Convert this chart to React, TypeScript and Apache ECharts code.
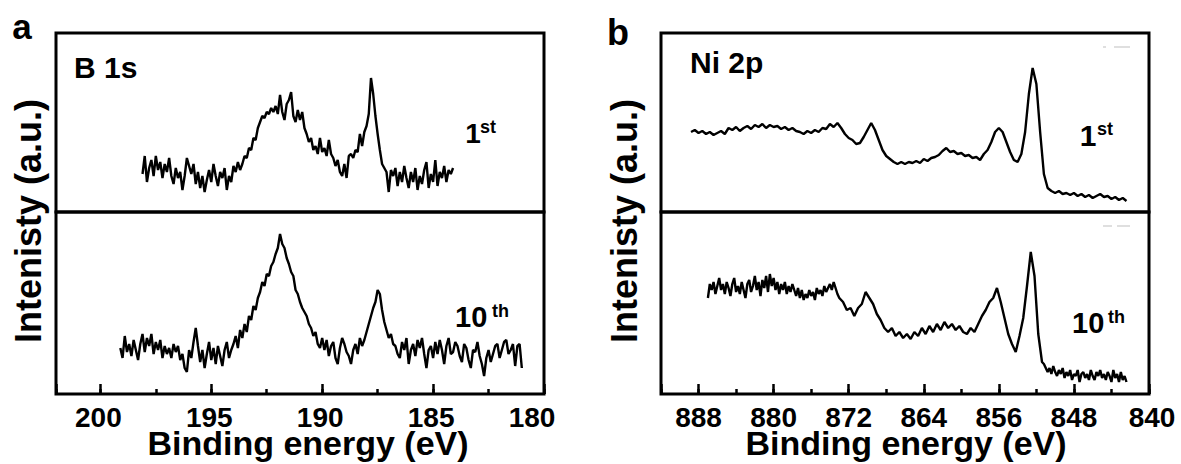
import React, { useEffect, useRef } from "react";
import * as echarts from "echarts";

// ---------- data ----------
// Panel a: B 1s  (binding energy eV, intensity a.u.)
const aRange = [180, 202];
const aMajorTicks = [200, 195, 190, 185, 180];
const aMinorTicks = [197.5, 192.5, 187.5, 182.5];

const aTop1st = [
  [198.1, 38], [198.0, 56], [197.9, 30], [197.8, 44], [197.7, 52], [197.6, 36], [197.5, 56], [197.4, 42], [197.3, 50], [197.2, 34],
  [197.1, 48], [197.0, 40], [196.9, 54], [196.8, 36], [196.7, 28], [196.6, 44], [196.5, 34], [196.4, 40], [196.3, 22], [196.2, 36],
  [196.1, 54], [196.0, 46], [195.9, 38], [195.8, 48], [195.7, 28], [195.6, 40], [195.5, 24], [195.4, 36], [195.3, 20], [195.2, 32],
  [195.1, 42], [195.0, 30], [194.9, 48], [194.8, 36], [194.7, 26], [194.6, 40], [194.5, 34], [194.4, 44], [194.3, 22], [194.2, 36],
  [194.1, 30], [194.0, 46], [193.9, 40], [193.8, 50], [193.7, 42], [193.6, 48], [193.5, 56], [193.4, 54], [193.3, 64], [193.2, 62],
  [193.1, 74], [193.0, 72], [192.9, 84], [192.8, 90], [192.7, 96], [192.6, 94], [192.5, 100], [192.4, 98], [192.3, 104], [192.2, 100],
  [192.1, 106], [192.0, 98], [191.9, 117], [191.8, 100], [191.7, 92], [191.6, 108], [191.5, 112], [191.4, 120], [191.3, 96], [191.2, 90],
  [191.1, 102], [191.0, 92], [190.9, 100], [190.8, 84], [190.7, 78], [190.6, 70], [190.5, 74], [190.4, 62], [190.3, 66], [190.2, 58],
  [190.1, 74], [190.0, 60], [189.9, 64], [189.8, 56], [189.7, 72], [189.6, 58], [189.5, 54], [189.4, 46], [189.3, 52], [189.2, 40],
  [189.1, 36], [189.0, 48], [188.9, 34], [188.8, 56], [188.7, 58], [188.6, 54], [188.5, 62], [188.4, 60], [188.3, 78], [188.2, 66],
  [188.1, 80], [188.0, 86], [187.9, 98], [187.8, 134], [187.7, 118], [187.6, 96], [187.5, 78], [187.4, 62], [187.3, 48], [187.2, 44],
  [187.1, 40], [187.0, 20], [186.9, 42], [186.8, 36], [186.7, 44], [186.6, 26], [186.5, 40], [186.4, 30], [186.3, 46], [186.2, 34],
  [186.1, 24], [186.0, 40], [185.9, 30], [185.8, 44], [185.7, 22], [185.6, 36], [185.5, 28], [185.4, 42], [185.3, 50], [185.2, 24],
  [185.1, 38], [185.0, 30], [184.9, 52], [184.8, 26], [184.7, 40], [184.6, 34], [184.5, 46], [184.4, 30], [184.3, 42], [184.2, 38],
  [184.1, 44],
];

const aBottom10th = [
  [199.1, 46], [199.0, 36], [198.9, 58], [198.8, 42], [198.7, 50], [198.6, 38], [198.5, 54], [198.4, 44], [198.3, 34], [198.2, 50],
  [198.1, 60], [198.0, 42], [197.9, 56], [197.8, 48], [197.7, 60], [197.6, 40], [197.5, 52], [197.4, 44], [197.3, 54], [197.2, 36],
  [197.1, 48], [197.0, 40], [196.9, 46], [196.8, 36], [196.7, 50], [196.6, 42], [196.5, 48], [196.4, 34], [196.3, 40], [196.2, 26],
  [196.1, 22], [196.0, 44], [195.9, 36], [195.8, 52], [195.7, 66], [195.6, 48], [195.5, 32], [195.4, 44], [195.3, 26], [195.2, 40],
  [195.1, 52], [195.0, 34], [194.9, 46], [194.8, 30], [194.7, 48], [194.6, 38], [194.5, 28], [194.4, 44], [194.3, 52], [194.2, 36],
  [194.1, 44], [194.0, 50], [193.9, 58], [193.8, 46], [193.7, 64], [193.6, 56], [193.5, 70], [193.4, 62], [193.3, 78], [193.2, 74],
  [193.1, 88], [193.0, 84], [192.9, 96], [192.8, 102], [192.7, 112], [192.6, 108], [192.5, 120], [192.4, 118], [192.3, 128], [192.2, 132],
  [192.1, 140], [192.0, 146], [191.9, 160], [191.8, 150], [191.7, 146], [191.6, 136], [191.5, 130], [191.4, 122], [191.3, 118], [191.2, 104],
  [191.1, 100], [191.0, 92], [190.9, 86], [190.8, 82], [190.7, 78], [190.6, 70], [190.5, 66], [190.4, 58], [190.3, 62], [190.2, 50],
  [190.1, 46], [190.0, 56], [189.9, 44], [189.8, 54], [189.7, 38], [189.6, 48], [189.5, 52], [189.4, 36], [189.3, 30], [189.2, 46],
  [189.1, 56], [189.0, 50], [188.9, 42], [188.8, 38], [188.7, 30], [188.6, 44], [188.5, 50], [188.4, 40], [188.3, 56], [188.2, 48],
  [188.1, 54], [188.0, 62], [187.9, 70], [187.8, 78], [187.7, 86], [187.6, 92], [187.5, 104], [187.4, 100], [187.3, 84], [187.2, 72],
  [187.1, 64], [187.0, 56], [186.9, 60], [186.8, 50], [186.7, 48], [186.6, 40], [186.5, 36], [186.4, 52], [186.3, 44], [186.2, 56],
  [186.1, 30], [186.0, 44], [185.9, 50], [185.8, 38], [185.7, 54], [185.6, 46], [185.5, 56], [185.4, 40], [185.3, 26], [185.2, 44],
  [185.1, 48], [185.0, 36], [184.9, 52], [184.8, 40], [184.7, 54], [184.6, 44], [184.5, 30], [184.4, 48], [184.3, 56], [184.2, 40],
  [184.1, 42], [184.0, 52], [183.9, 48], [183.8, 38], [183.7, 32], [183.6, 50], [183.5, 46], [183.4, 34], [183.3, 26], [183.2, 44],
  [183.1, 42], [183.0, 52], [182.9, 38], [182.8, 30], [182.7, 18], [182.6, 36], [182.5, 44], [182.4, 32], [182.3, 40], [182.2, 48],
  [182.1, 50], [182.0, 36], [181.9, 44], [181.8, 52], [181.7, 54], [181.6, 40], [181.5, 44], [181.4, 50], [181.3, 28], [181.2, 48],
  [181.1, 50], [181.0, 26],
];

// Panel b: Ni 2p
const bRange = [840, 892];
const bMajorTicks = [888, 880, 872, 864, 856, 848, 840];
const bMinorTicks = [884, 876, 868, 860, 852, 844];

const bTop1st = [
  [888.8, 80], [888.4, 82], [888.0, 79], [887.6, 81], [887.2, 78], [886.8, 80], [886.4, 77], [886.0, 79], [885.6, 81], [885.2, 78],
  [884.8, 84], [884.4, 82], [884.0, 85], [883.6, 81], [883.2, 84], [882.8, 86], [882.4, 83], [882.0, 87], [881.6, 85], [881.2, 88],
  [880.8, 84], [880.4, 87], [880.0, 85], [879.6, 86], [879.2, 83], [878.8, 85], [878.4, 82], [878.0, 84], [877.6, 81], [877.2, 80],
  [876.8, 78], [876.4, 81], [876.0, 79], [875.6, 82], [875.2, 80], [874.8, 84], [874.4, 83], [874.0, 88], [873.6, 85], [873.2, 89],
  [872.8, 84], [872.4, 78], [872.0, 74], [871.6, 72], [871.2, 68], [870.8, 69], [870.4, 75], [870.0, 82], [869.6, 89], [869.2, 82],
  [868.8, 72], [868.4, 62], [868.0, 56], [867.6, 53], [867.2, 50], [866.8, 48], [866.4, 50], [866.0, 48], [865.6, 50], [865.2, 49],
  [864.8, 51], [864.4, 49], [864.0, 53], [863.6, 51], [863.2, 54], [862.8, 55], [862.4, 57], [862.0, 61], [861.6, 64], [861.2, 60],
  [860.8, 61], [860.4, 58], [860.0, 59], [859.6, 56], [859.2, 57], [858.8, 54], [858.4, 55], [858.0, 52], [857.6, 58], [857.2, 62],
  [856.8, 70], [856.4, 80], [856.0, 84], [855.6, 80], [855.2, 70], [854.8, 60], [854.4, 52], [854.0, 50], [853.6, 58], [853.2, 80],
  [852.8, 118], [852.4, 144], [852.0, 128], [851.6, 80], [851.2, 38], [850.8, 24], [850.4, 21], [850.0, 19], [849.6, 21], [849.2, 18],
  [848.8, 19], [848.4, 17], [848.0, 19], [847.6, 16], [847.2, 18], [846.8, 15], [846.4, 17], [846.0, 14], [845.6, 16], [845.2, 18],
  [844.8, 15], [844.4, 16], [844.0, 13], [843.6, 15], [843.2, 12], [842.8, 14], [842.4, 11],
];

const bBottom10th = [
  [887.0, 96], [886.8, 110], [886.6, 104], [886.4, 112], [886.2, 100], [886.0, 108], [885.8, 116], [885.6, 104], [885.4, 110], [885.2, 100],
  [885.0, 112], [884.8, 106], [884.6, 98], [884.4, 110], [884.2, 116], [884.0, 102], [883.8, 108], [883.6, 100], [883.4, 112], [883.2, 104],
  [883.0, 96], [882.8, 110], [882.6, 114], [882.4, 102], [882.2, 108], [882.0, 118], [881.8, 104], [881.6, 112], [881.4, 98], [881.2, 114],
  [881.0, 106], [880.8, 118], [880.6, 102], [880.4, 120], [880.2, 108], [880.0, 116], [879.8, 104], [879.6, 112], [879.4, 100], [879.2, 110],
  [879.0, 104], [878.8, 112], [878.6, 100], [878.4, 108], [878.2, 102], [878.0, 110], [877.8, 104], [877.6, 98], [877.4, 106], [877.2, 96],
  [877.0, 104], [876.8, 94], [876.6, 100], [876.4, 96], [876.2, 104], [876.0, 98], [875.8, 102], [875.6, 94], [875.4, 106], [875.2, 100],
  [875.0, 104], [874.8, 98], [874.6, 108], [874.4, 102], [874.2, 106], [874.0, 110], [873.8, 104], [873.6, 112], [873.4, 106], [873.2, 100],
  [873.0, 96], [872.6, 92], [872.2, 84], [871.8, 86], [871.4, 78], [871.0, 86], [870.6, 90], [870.2, 102], [869.8, 96], [869.4, 90],
  [869.0, 80], [868.6, 74], [868.2, 66], [867.8, 62], [867.4, 66], [867.0, 58], [866.6, 62], [866.2, 56], [865.8, 60], [865.4, 55],
  [865.0, 62], [864.6, 58], [864.2, 66], [863.8, 60], [863.4, 68], [863.0, 62], [862.6, 70], [862.2, 64], [861.8, 72], [861.4, 66],
  [861.0, 70], [860.6, 64], [860.2, 68], [859.8, 62], [859.4, 60], [859.0, 66], [858.6, 62], [858.2, 70], [857.8, 78], [857.4, 84],
  [857.0, 92], [856.6, 96], [856.2, 106], [855.8, 92], [855.4, 76], [855.0, 60], [854.6, 50], [854.2, 42], [853.8, 58], [853.4, 76],
  [853.0, 108], [852.6, 142], [852.2, 118], [851.8, 60], [851.4, 32], [851.2, 30], [851.0, 26], [850.8, 22], [850.6, 26], [850.4, 20],
  [850.2, 28], [850.0, 22], [849.8, 18], [849.6, 24], [849.4, 20], [849.2, 26], [849.0, 16], [848.8, 22], [848.6, 18], [848.4, 24],
  [848.2, 14], [848.0, 20], [847.8, 18], [847.6, 24], [847.4, 12], [847.2, 20], [847.0, 22], [846.8, 16], [846.6, 20], [846.4, 14],
  [846.2, 24], [846.0, 18], [845.8, 14], [845.6, 22], [845.4, 18], [845.2, 24], [845.0, 16], [844.8, 20], [844.6, 14], [844.4, 22],
  [844.2, 18], [844.0, 12], [843.8, 24], [843.6, 16], [843.4, 20], [843.2, 12], [843.0, 22], [842.8, 14], [842.6, 18], [842.4, 12],
];

const yTopMax = 179;
const yBottomMax = 182;

// ---------- chart ----------
const FONT = 'Arial, "Liberation Sans", Helvetica, sans-serif';

function tickAxis(gridIndex: number, range: number[], interval: number, length: number) {
  return {
    type: "value",
    gridIndex,
    min: range[0],
    max: range[1],
    interval,
    inverse: true,
    position: "bottom",
    axisLine: { show: false },
    splitLine: { show: false },
    axisTick: { show: true, inside: true, length, lineStyle: { color: "#000", width: 2.5 } },
    axisLabel: { show: false },
  };
}

function hiddenX(gridIndex: number, range: number[]) {
  return { type: "value", gridIndex, min: range[0], max: range[1], inverse: true, show: false };
}

function hiddenY(gridIndex: number, max: number) {
  return { type: "value", gridIndex, min: 0, max, show: false };
}

function line(data: number[][], xAxisIndex: number, yAxisIndex: number) {
  return {
    type: "line",
    data,
    xAxisIndex,
    yAxisIndex,
    showSymbol: false,
    symbol: "none",
    lineStyle: { color: "#000", width: 2.4 },
    silent: true,
  };
}

function txt(text: string, x: number, y: number, size: number, align = "left", rotation = 0) {
  return {
    type: "text",
    x,
    y,
    rotation,
    silent: true,
    style: {
      text,
      fill: "#000",
      fontSize: size,
      fontWeight: "bold",
      fontFamily: FONT,
      lineHeight: Math.round(size * 0.8),
      align,
      textAlign: align,
      verticalAlign: "middle",
      textVerticalAlign: "middle",
    },
  };
}

function faint(x1: number, x2: number, y: number) {
  return {
    type: "line",
    silent: true,
    shape: { x1, y1: y, x2, y2: y },
    style: { stroke: "#d4d4d4", lineWidth: 1.5 },
  };
}

export default function App() {
  const ref = useRef<HTMLDivElement>(null);
  useEffect(() => {
    if (!ref.current) return;
    const chart = echarts.init(ref.current, undefined, { renderer: "svg" });
    const border = { show: true, borderColor: "#000", borderWidth: 3 };
    chart.setOption({
      animation: false,
      backgroundColor: "#fff",
      grid: [
        { left: 56, top: 33, width: 488, height: 179, ...border },
        { left: 56, top: 212, width: 488, height: 182, ...border },
        { left: 661, top: 33, width: 488, height: 179, ...border },
        { left: 661, top: 212, width: 488, height: 182, ...border },
      ],
      xAxis: [
        hiddenX(0, aRange),
        tickAxis(1, aRange, Math.abs(aMinorTicks[0] - aMinorTicks[1]) / 2, 5),
        tickAxis(1, aRange, Math.abs(aMajorTicks[0] - aMajorTicks[1]), 10),
        hiddenX(2, bRange),
        tickAxis(3, bRange, Math.abs(bMinorTicks[0] - bMinorTicks[1]) / 2, 5),
        tickAxis(3, bRange, Math.abs(bMajorTicks[0] - bMajorTicks[1]), 10),
      ],
      yAxis: [hiddenY(0, yTopMax), hiddenY(1, yBottomMax), hiddenY(2, yTopMax), hiddenY(3, yBottomMax)],
      series: [
        line(aTop1st, 0, 0),
        line(aBottom10th, 2, 1),
        line(bTop1st, 3, 2),
        line(bBottom10th, 5, 3),
      ],
    });

    // tick labels placed with the axes' own scales
    const tickLabels: any[] = [];
    aMajorTicks.forEach((v) => {
      const px = chart.convertToPixel({ xAxisIndex: 2 }, v) as number;
      tickLabels.push(txt(String(v), v === aRange[0] ? px - 12 : px - 2, 417, 28, "center"));
    });
    bMajorTicks.forEach((v) => {
      const px = chart.convertToPixel({ xAxisIndex: 5 }, v) as number;
      tickLabels.push(txt(String(v), v === bRange[0] ? px + 3 : px, 417, 28, "center"));
    });

    chart.setOption({
      graphic: [
        ...tickLabels,
        faint(1103, 1106, 47),
        faint(1114, 1130, 47),
        faint(1103, 1112, 226),
        faint(1117, 1130, 226),
        txt("a", 22, 26, 35, "center"),
        txt("b", 618, 32, 36, "center"),
        txt("B 1s", 74, 67, 30),
        txt("Ni 2p", 690, 62, 30),
        txt("1", 473, 133, 28, "center"),
        txt("st", 480, 127, 18),
        txt("10", 455, 317, 29),
        txt("th", 492, 311, 18),
        txt("1", 1088, 135, 30, "center"),
        txt("st", 1097, 129, 18),
        txt("10", 1072, 323, 29),
        txt("th", 1108, 317, 18),
        txt("Binding energy (eV)", 308, 443, 34, "center"),
        txt("Binding energy (eV)", 906, 443, 34, "center"),
        txt("Intenisty (a.u.)", 28, 221, 36, "center", Math.PI / 2),
        txt("Intenisty (a.u.)", 624, 221, 36, "center", Math.PI / 2),
      ],
    });
    return () => chart.dispose();
  }, []);
  return (
    <div
      ref={ref}
      style={{ position: "absolute", left: 0, top: 0, width: 1181, height: 464, background: "#fff" }}
    />
  );
}
